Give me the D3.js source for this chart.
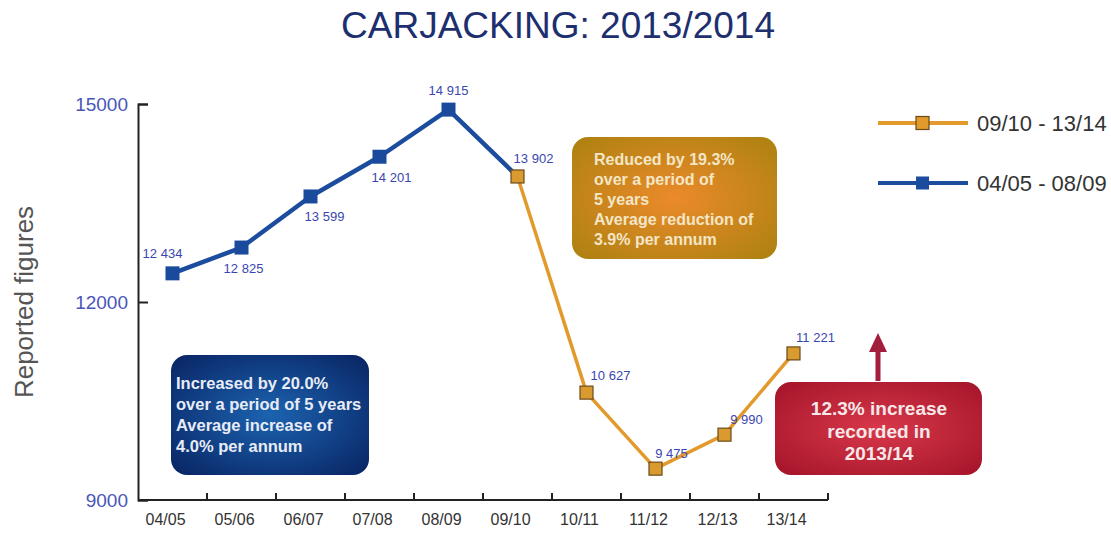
<!DOCTYPE html>
<html>
<head>
<meta charset="utf-8">
<title>Carjacking 2013/2014</title>
<script src="https://cdn.jsdelivr.net/npm/d3@7"></script>
<style>
  body { margin: 0; background: #fff; }
  svg { font-family: "Liberation Sans", Arial, sans-serif; }
</style>
</head>
<body>
<svg id="mainsvg" width="1111" height="537"></svg>
<script>
// data
const years = ["04/05", "05/06", "06/07", "07/08", "08/09", "09/10", "10/11", "11/12", "12/13", "13/14"];
const values = [12434, 12825, 13599, 14201, 14915, 13902, 10627, 9475, 9990, 11221];
const valueLabels = ["12 434", "12 825", "13 599", "14 201", "14 915", "13 902", "10 627", "9 475", "9 990", "11 221"];
const yTicks = [9000, 12000, 15000];
const blueYears = years.slice(0, 6);     // 04/05 - 09/10
const orangeYears = years.slice(5);      // 09/10 - 13/14

// label offsets relative to point (layout only)
const labelOffsets = [[-10, -15], [2, 25], [14, 25], [12, 25], [0, -15], [16, -13], [24, -13], [16, -11], [22, -11], [22, -11]];

const svg = d3.select("#mainsvg");
const margin = {top: 104, left: 138, bottom: 37};
const innerW = 690, innerH = 396;

const x = d3.scaleBand().domain(years).range([margin.left, margin.left + innerW]);
const y = d3.scaleLinear().domain([9000, 15000]).range([margin.top + innerH, margin.top]);
const cx = d => x(d) + x.bandwidth() / 2;
const valOf = yr => values[years.indexOf(yr)];

// gradients
const defs = svg.append("defs");
function radial(id, inner, outer) {
    const g = defs.append("radialGradient").attr("id", id).attr("cx", "50%").attr("cy", "50%").attr("r", "65%");
    g.append("stop").attr("offset", "0%").attr("stop-color", inner);
    g.append("stop").attr("offset", "100%").attr("stop-color", outer);
}
radial("gOrange", "#ec8a2a", "#b08212");
radial("gBlue", "#1c63b0", "#0a2868");
radial("gRed", "#d8384a", "#a8162c");

// title
svg.append("text").attr("x", 558).attr("y", 38).attr("text-anchor", "middle")
    .attr("font-size", 37).attr("fill", "#1d2f6f").text("CARJACKING: 2013/2014");

// y label
svg.append("text").attr("transform", `translate(33, ${y(12000)}) rotate(-90)`)
    .attr("text-anchor", "middle").attr("font-size", 26).attr("fill", "#555").text("Reported figures");

// axes
const yAxis = d3.axisLeft(y).tickValues(yTicks).tickSize(-10).tickPadding(10).tickFormat(d3.format("d"));
const gy = svg.append("g").attr("transform", `translate(${margin.left},0)`).call(yAxis);
gy.select(".domain").attr("stroke", "#222").attr("stroke-width", 2);
gy.selectAll(".tick line").attr("stroke", "#222").attr("stroke-width", 2);
gy.selectAll(".tick text").attr("font-size", 19).attr("fill", "#4a55b8").attr("font-family", "Liberation Sans, Arial, sans-serif");

const xAxis = d3.axisBottom(x).tickSize(0).tickPadding(14);
const gx = svg.append("g").attr("transform", `translate(0,${margin.top + innerH})`).call(xAxis);
gx.select(".domain").attr("stroke", "#222").attr("stroke-width", 2).attr("d", `M${margin.left},0H${margin.left + innerW}`);
gx.selectAll(".tick text").attr("font-size", 16).attr("fill", "#333").attr("dx", -7)
    .attr("font-family", "Liberation Sans, Arial, sans-serif");
gx.selectAll(".bound").data(years).enter().append("line")
    .attr("x1", d => x(d) + x.bandwidth()).attr("x2", d => x(d) + x.bandwidth())
    .attr("y1", 0).attr("y2", -7).attr("stroke", "#222").attr("stroke-width", 2);

// lines
const line = d3.line().x(d => cx(d)).y(d => y(valOf(d)));
svg.append("path").datum(blueYears).attr("d", line).attr("fill", "none")
    .attr("stroke", "#1c4c9e").attr("stroke-width", 4.5).attr("stroke-linejoin", "round");
svg.append("path").datum(orangeYears).attr("d", line).attr("fill", "none")
    .attr("stroke", "#e39a2c").attr("stroke-width", 3.5).attr("stroke-linejoin", "round");

svg.selectAll(".mb").data(blueYears.slice(0, 5)).enter().append("rect")
    .attr("x", d => cx(d) - 7).attr("y", d => y(valOf(d)) - 7).attr("width", 14).attr("height", 14)
    .attr("fill", "#1a4a9c");
svg.selectAll(".mo").data(orangeYears).enter().append("rect")
    .attr("x", d => cx(d) - 6.5).attr("y", d => y(valOf(d)) - 6.5).attr("width", 13).attr("height", 13)
    .attr("fill", "#d99a30").attr("stroke", "#6b4a1a").attr("stroke-width", 1.2);

// value labels
svg.selectAll(".vl").data(years).enter().append("text")
    .attr("x", (d, i) => cx(d) + labelOffsets[i][0])
    .attr("y", (d, i) => y(values[i]) + labelOffsets[i][1])
    .attr("text-anchor", "middle").attr("font-size", 13).attr("fill", "#3a46b0")
    .text((d, i) => valueLabels[i]);

// annotation boxes
function box(x0, y0, w, h, fill, lines, opts) {
    svg.append("rect").attr("x", x0).attr("y", y0).attr("width", w).attr("height", h)
        .attr("rx", 16).attr("fill", fill);
    const t = svg.append("text").attr("font-size", opts.size).attr("font-weight", "bold")
        .attr("fill", opts.color).attr("text-anchor", opts.anchor);
    lines.forEach((l, i) => {
        t.append("tspan").attr("x", opts.tx).attr("y", opts.ty + i * opts.lh).text(l);
    });
}
box(572, 137, 205, 122, "url(#gOrange)",
    ["Reduced by 19.3%", "over a period of", "5 years", "Average reduction of", "3.9% per annum"],
    {size: 16, color: "#f3e6c6", anchor: "start", tx: 594, ty: 165, lh: 20});
box(171, 355, 198, 120, "url(#gBlue)",
    ["Increased by 20.0%", "over a period of 5 years", "Average increase of", "4.0% per annum"],
    {size: 16.5, color: "#e8ecf6", anchor: "start", tx: 176, ty: 389, lh: 21});
box(775, 382, 207, 93, "url(#gRed)",
    ["12.3% increase", "recorded in", "2013/14"],
    {size: 19, color: "#f6e8e8", anchor: "middle", tx: 879, ty: 415, lh: 22.5});

// arrow
svg.append("line").attr("x1", 878).attr("x2", 878).attr("y1", 381).attr("y2", 345)
    .attr("stroke", "#a21e3c").attr("stroke-width", 5);
svg.append("path").attr("d", "M878,333 L869,352 L887,352 Z").attr("fill", "#a21e3c");

// legend
const legend = [
    {label: "09/10 - 13/14", color: "#e39a2c", stroke: "#6b4a1a", y: 123},
    {label: "04/05 - 08/09", color: "#1c4c9e", stroke: "none", y: 183}
];
const lg = svg.selectAll(".lg").data(legend).enter().append("g");
lg.append("line").attr("x1", 878).attr("x2", 968).attr("y1", d => d.y).attr("y2", d => d.y)
    .attr("stroke", d => d.color).attr("stroke-width", 4);
lg.append("rect").attr("x", 916).attr("y", d => d.y - 6.5).attr("width", 13).attr("height", 13)
    .attr("fill", d => d.color).attr("stroke", d => d.stroke).attr("stroke-width", 1.2);
lg.append("text").attr("x", 977).attr("y", d => d.y + 8).attr("font-size", 22).attr("fill", "#333")
    .text(d => d.label);
</script>
</body>
</html>
